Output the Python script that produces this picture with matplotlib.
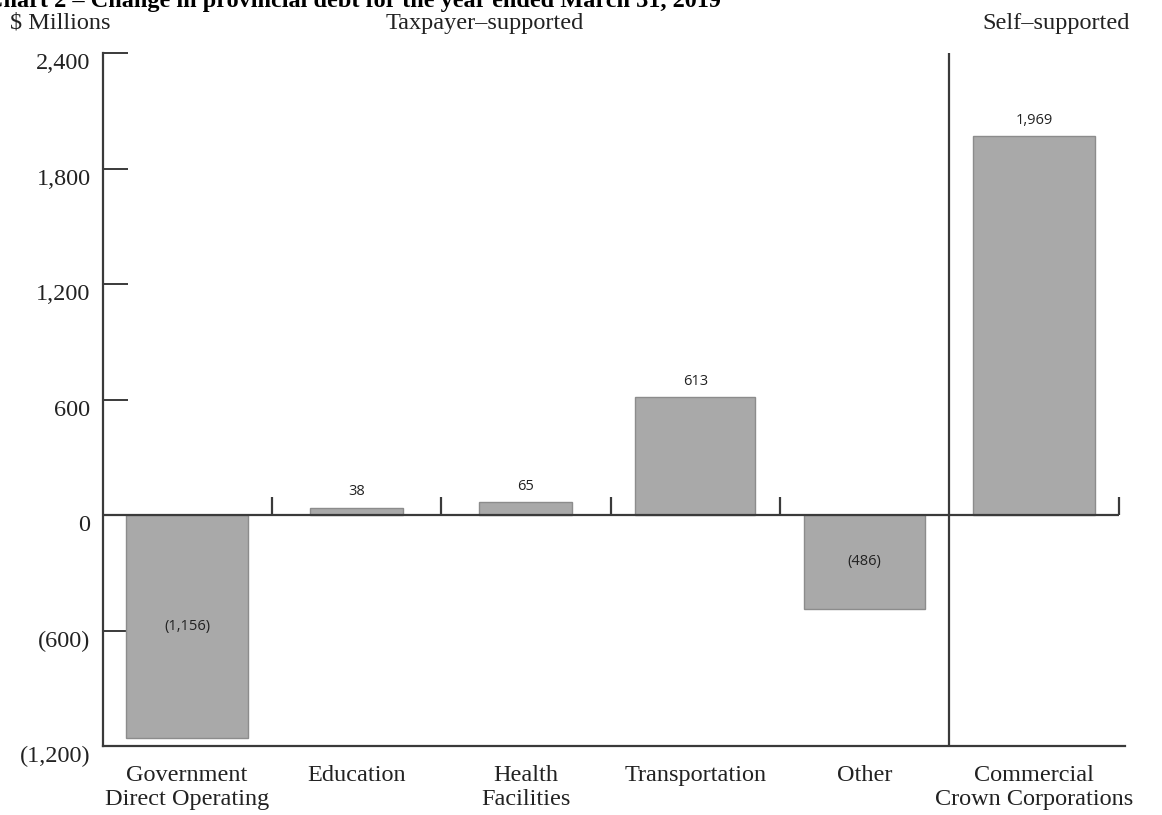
import matplotlib
matplotlib.use("Agg")
import matplotlib.pyplot as plt
from matplotlib.path import Path
from matplotlib.transforms import ScaledTranslation

# Change in provincial debt, $ millions
categories = ["Government\nDirect Operating", "Education", "Health\nFacilities",
              "Transportation", "Other", "Commercial\nCrown Corporations"]
values = [-1156, 38, 65, 613, -486, 1969]
value_labels = ["(1,156)", "38", "65", "613", "(486)", "1,969"]
ytick_values = [-1200, -600, 0, 600, 1200, 1800, 2400]
ytick_labels = ["(1,200)", "(600)", "0", "600", "1,200", "1,800", "2,400"]

bar_widths = [0.72, 0.55, 0.55, 0.71, 0.71, 0.72]
SERIF = ["Liberation Serif", "DejaVu Serif"]
SANS = ["Open Sans", "DejaVu Sans"]
LINE = "#3a3a3a"
TEXT = "#222222"
W, H = 1162, 815

fig = plt.figure(figsize=(W / 100, H / 100), dpi=100)
fig.patch.set_facecolor("white")
ax = fig.add_axes([103 / W, (H - 746) / H, 1022 / W, 693 / H])

x = list(range(len(categories)))
ax.bar(x, values, width=bar_widths, color="#a9a9a9", edgecolor="#8c8c8c",
       linewidth=1.0, zorder=2)

ax.set_xlim(-0.496, 5.537)
ax.set_ylim(ytick_values[0], ytick_values[-1])

# Axes frame
for side in ("top", "right"):
    ax.spines[side].set_visible(False)
for side in ("left", "bottom"):
    ax.spines[side].set_color(LINE)
    ax.spines[side].set_linewidth(1.6)

ax.set_yticks(ytick_values)
ax.set_yticklabels(ytick_labels, fontfamily=SERIF, fontsize=17.5, color=TEXT)
ax.tick_params(axis="y", direction="in", length=18, width=1.4, color=LINE, pad=9)
# old-style figures sit low next to their tick marks
for lab in ax.get_yticklabels():
    lab.set_transform(lab.get_transform() +
                      ScaledTranslation(0, -6 / 72, fig.dpi_scale_trans))

ax.set_xticks(x)
ax.set_xticklabels(categories, fontfamily=SERIF, fontsize=17.5, color=TEXT,
                   linespacing=1.15)
ax.tick_params(axis="x", length=0, pad=14)

# Zero line with upward separator ticks between categories
ax.plot([ax.get_xlim()[0], 5.5], [0, 0], color=LINE, lw=1.6, zorder=3,
        solid_capstyle="butt")
up_tick = Path([(0, 0), (0, 1)])
sep_x = [i + 0.5 for i in range(4)] + [5.5]
ax.plot(sep_x, [0] * len(sep_x), linestyle="none", marker=up_tick,
        markersize=26, markeredgewidth=1.6, color=LINE, zorder=3)

# Divider between taxpayer- and self-supported debt
ax.axvline(4.5, color=LINE, lw=1.6, zorder=3)

# Value labels
for xi, v, lab in zip(x, values, value_labels):
    if v >= 0:
        ax.annotate(lab, (xi, v), xytext=(0, 6), textcoords="offset points",
                    ha="center", va="bottom", fontfamily=SANS, fontsize=10.5,
                    color=TEXT)
    else:
        ax.text(xi, v / 2, lab, ha="center", va="center", fontfamily=SANS,
                fontsize=10.5, color=TEXT)

# Headers
hdr_y = 1 - 29 / H
fig.text(10 / W, hdr_y, "$ Millions", ha="left", va="baseline",
         fontfamily=SERIF, fontsize=17.5, color=TEXT)
fig.text(485 / W, hdr_y, "Taxpayer\u2013supported", ha="center",
         va="baseline", fontfamily=SERIF, fontsize=17.5, color=TEXT)
fig.text(1056 / W, hdr_y, "Self\u2013supported", ha="center",
         va="baseline", fontfamily=SERIF, fontsize=17.5, color=TEXT)
fig.text(-14 / W, 1 - 7 / H,
         "Chart 2 \u2013 Change in provincial debt for the year ended March 31, 2019",
         ha="left", va="baseline", fontfamily=SERIF, fontsize=17.5,
         fontweight="bold", color="black")

fig.savefig("out.png", dpi=100, facecolor="white")
